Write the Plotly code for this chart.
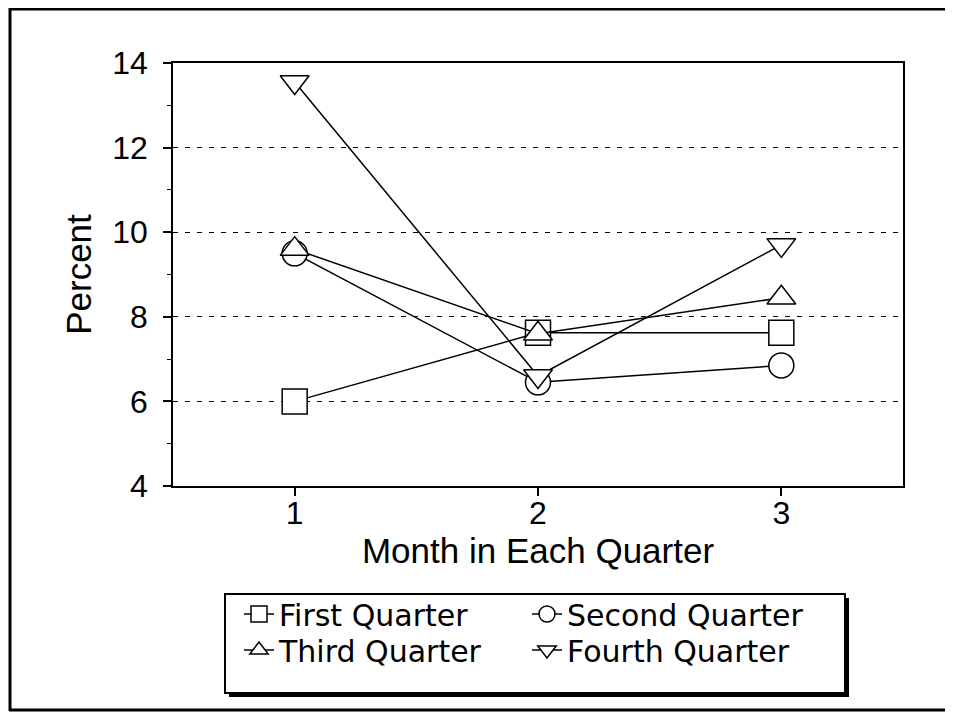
import plotly.graph_objects as go

months = [1, 2, 3]
series_names = ["First Quarter", "Second Quarter", "Third Quarter", "Fourth Quarter"]
first_q = [6.0, 7.62, 7.62]
second_q = [9.5, 6.45, 6.85]
third_q = [9.6, 7.6, 8.45]
fourth_q = [13.55, 6.6, 9.7]
y_ticks = [4, 6, 8, 10, 12, 14]
x_ticks = [1, 2, 3]

symbols = ["square", "circle", "triangle-up", "triangle-down"]
values = [first_q, second_q, third_q, fourth_q]
legend_ids = ["legend", "legend", "legend2", "legend2"]

FONT = "Liberation Sans, Arial, sans-serif"
LEG_FONT = "DejaVu Sans, Liberation Sans, sans-serif"

fig = go.Figure()
for name, vals, sym, lg in zip(series_names, values, symbols, legend_ids):
    fig.add_trace(go.Scatter(
        x=months, y=vals, name=name, mode="lines+markers",
        line=dict(color="black", width=1.5),
        marker=dict(symbol=sym, size=25, color="white",
                    line=dict(color="black", width=1.5)),
        legend=lg,
    ))

W, H = 937, 713
OFF = 8  # page body margin
# plot area in page pixels
PL, PR, PT, PB = 173, 903, 63, 486
pw, ph = PR - PL, PB - PT

def px_x(p):
    return (p - PL) / pw

def px_y(p):
    return (PB - p) / ph

legend_common = dict(
    orientation="h", xanchor="left", yanchor="middle",
    bgcolor="rgba(0,0,0,0)", borderwidth=0,
    font=dict(family=LEG_FONT, size=30, color="black"),
    entrywidth=243, entrywidthmode="pixels", itemwidth=30,
)

fig.update_layout(
    width=W, height=H,
    margin=dict(l=PL - OFF, r=W - (PR - OFF), t=PT - OFF, b=H - (PB - OFF), autoexpand=False),
    paper_bgcolor="white", plot_bgcolor="white",
    font=dict(family=FONT, color="black", size=32),
    showlegend=True,
    legend=dict(x=px_x(239), y=px_y(614), **legend_common),
    legend2=dict(x=px_x(239), y=px_y(650), **legend_common),
    xaxis=dict(
        range=[0.5, 3.5], tickvals=x_ticks, ticktext=[str(v) for v in x_ticks],
        showgrid=False, zeroline=False,
        showline=True, linecolor="black", linewidth=1.5, mirror=True,
        ticks="outside", ticklen=8, tickwidth=1.5, tickcolor="black",
        ticklabelstandoff=-10,
        tickfont=dict(size=32),
        title=dict(text="Month in Each Quarter", font=dict(size=35), standoff=4),
    ),
    yaxis=dict(
        range=[4, 14], tickvals=y_ticks, ticktext=[str(v) for v in y_ticks],
        showgrid=True, gridcolor="black", gridwidth=1.3, griddash="5px,7px",
        zeroline=False,
        showline=True, linecolor="black", linewidth=1.5, mirror=True,
        ticks="outside", ticklen=8, tickwidth=1.5, tickcolor="black",
        ticklabelstandoff=9,
        minor=dict(dtick=1, ticks="outside", ticklen=4, tickcolor="black", tickwidth=1.2, showgrid=False),
        tickfont=dict(size=32),
        title=dict(text="Percent", font=dict(size=35), standoff=10),
    ),
)

# outer frame: left, top and bottom edges (right edge lies outside the picture)
frame = dict(type="line", xref="paper", yref="paper",
             line=dict(color="black", width=3), layer="below")
fig.add_shape(x0=px_x(10), x1=px_x(10), y0=px_y(711), y1=px_y(8), **frame)
fig.add_shape(x0=px_x(9), x1=px_x(1000), y0=px_y(9), y1=px_y(9), **frame)
fig.add_shape(x0=px_x(9), x1=px_x(1000), y0=px_y(710), y1=px_y(710), **frame)
# legend box shadow and border
fig.add_shape(type="rect", xref="paper", yref="paper",
              x0=px_x(229), x1=px_x(849), y0=px_y(697), y1=px_y(598),
              line=dict(color="black", width=0), fillcolor="black", layer="above")
fig.add_shape(type="rect", xref="paper", yref="paper",
              x0=px_x(225), x1=px_x(845), y0=px_y(693), y1=px_y(594),
              line=dict(color="black", width=2), fillcolor="white", layer="above")

fig.write_html("out.html")
